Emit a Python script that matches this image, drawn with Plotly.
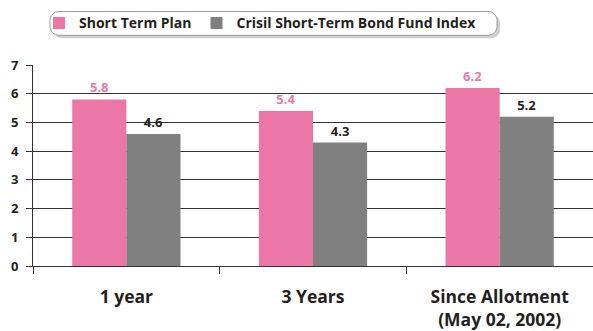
import plotly.graph_objects as go

# Annualised returns (%) by holding period
categories = ["1 year", "3 Years", "Since Allotment<br>(May 02, 2002)"]
plan_name = "Short Term Plan"
index_name = "Crisil Short-Term Bond Fund Index"
plan_returns = [5.8, 5.4, 6.2]
index_returns = [4.6, 4.3, 5.2]
y_ticks = [0, 1, 2, 3, 4, 5, 6, 7]

PINK = "#EC77A7"
GREY = "#808080"
INK = "#231F20"
FONT = "Open Sans"

W, H = 593, 331
M_L, M_R, M_T, M_B = 33, 0, 65, 63
PLOT_W = W - M_L - M_R
PLOT_H = H - M_T - M_B


def to_paper(px, py):
    """Convert page pixels to paper coordinates of the plot area."""
    return (px - M_L) / PLOT_W, (H - M_B - py) / PLOT_H


def rounded_box(x0, y0, x1, y1, r):
    k = 0.5523 * r
    pts = [
        ("M", [(x0 + r, y0)]),
        ("L", [(x1 - r, y0)]),
        ("C", [(x1 - r + k, y0), (x1, y0 + r - k), (x1, y0 + r)]),
        ("L", [(x1, y1 - r)]),
        ("C", [(x1, y1 - r + k), (x1 - r + k, y1), (x1 - r, y1)]),
        ("L", [(x0 + r, y1)]),
        ("C", [(x0 + r - k, y1), (x0, y1 - r + k), (x0, y1 - r)]),
        ("L", [(x0, y0 + r)]),
        ("C", [(x0, y0 + r - k), (x0 + r - k, y0), (x0 + r, y0)]),
    ]
    out = []
    for cmd, coords in pts:
        conv = " ".join("%.5f,%.5f" % to_paper(x, y) for x, y in coords)
        out.append(cmd + conv)
    return " ".join(out) + " Z"


fig = go.Figure()
fig.add_trace(go.Bar(
    name=plan_name, x=categories, y=plan_returns,
    marker=dict(color=PINK, line=dict(width=0)),
    text=[f"{v:.1f}" for v in plan_returns], textposition="outside",
    textfont=dict(family=FONT, size=13, color=PINK, weight="bold"),
    cliponaxis=False,
))
fig.add_trace(go.Bar(
    name=index_name, x=categories, y=index_returns,
    marker=dict(color=GREY, line=dict(width=0)),
    text=[f"{v:.1f}" for v in index_returns], textposition="outside",
    textfont=dict(family=FONT, size=13, color=INK, weight="bold"),
    cliponaxis=False,
))

# legend frame with a soft drop shadow
shapes = [
    dict(type="path", xref="paper", yref="paper", layer="above",
         path=rounded_box(53, 14, 500, 38, 9),
         fillcolor="#CFCFCF", line=dict(width=0)),
    dict(type="path", xref="paper", yref="paper", layer="above",
         path=rounded_box(50, 11, 497, 35, 9),
         fillcolor="white", line=dict(color="#9A9A9A", width=1)),
]

lx, ly = to_paper(39, 23)
fig.update_layout(
    width=W, height=H,
    margin=dict(l=M_L, r=M_R, t=M_T, b=M_B, pad=0),
    paper_bgcolor="white", plot_bgcolor="white",
    barmode="group", bargap=0.42, bargroupgap=0,
    showlegend=True,
    legend=dict(
        orientation="h", x=lx, y=ly, xanchor="left", yanchor="middle",
        bgcolor="rgba(0,0,0,0)", borderwidth=0,
        font=dict(family=FONT, size=14, color=INK, weight="bold"),
        traceorder="normal", itemwidth=30,
    ),
    shapes=shapes,
    xaxis=dict(
        type="category", tickson="boundaries",
        ticks="outside", ticklen=7, tickwidth=1, tickcolor="#333",
        showline=True, linecolor="#333", linewidth=1,
        showgrid=False, ticklabelstandoff=15,
        tickfont=dict(family=FONT, size=17.5, color=INK, weight="bold"),
    ),
    yaxis=dict(
        range=[0, 7], tickvals=y_ticks,
        ticks="outside", ticklen=6, tickwidth=1, tickcolor="#333",
        showline=True, linecolor="#333", linewidth=1,
        showgrid=True, gridcolor="#333", gridwidth=1,
        zeroline=False, ticklabelstandoff=5,
        tickfont=dict(family=FONT, size=13, color=INK, weight="bold"),
    ),
)

fig.write_html("out.html")
